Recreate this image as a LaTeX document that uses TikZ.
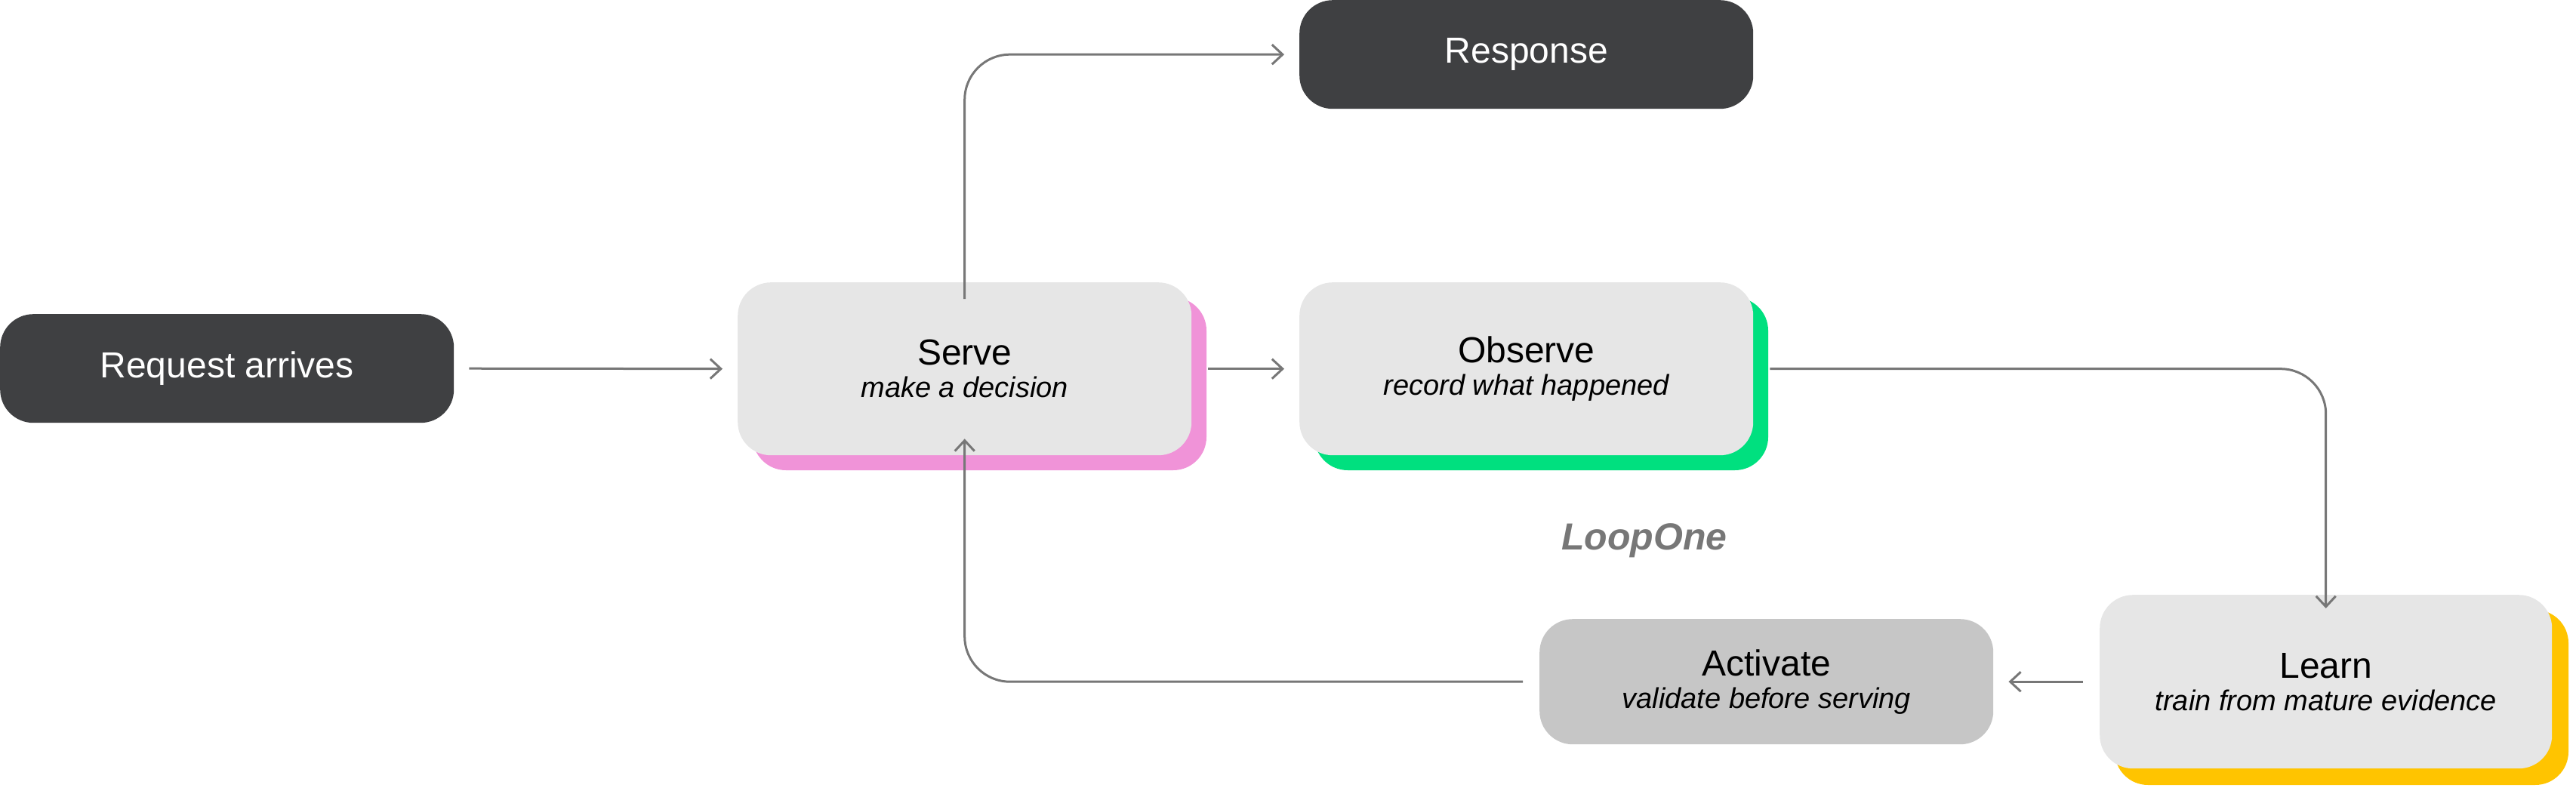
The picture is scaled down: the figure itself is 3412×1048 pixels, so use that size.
\documentclass[tikz,border=0pt]{standalone}
\usepackage{fontspec}
\setmainfont{Liberation Sans}
\usetikzlibrary{arrows.meta}
\definecolor{dark}{HTML}{3F4042}
\definecolor{light}{HTML}{E6E6E6}
\definecolor{mid}{HTML}{C6C6C6}
\definecolor{lnc}{HTML}{777777}
\definecolor{pinkc}{HTML}{F093D8}
\definecolor{greenc}{HTML}{00E07F}
\definecolor{yellowc}{HTML}{FFC400}
\tikzset{
  box/.style={rounded corners=44pt, minimum width=601pt, align=center, inner sep=0pt},
  darkbox/.style={box, fill=dark, text=white, minimum height=144pt, font=\fontsize{48}{56}\selectfont},
  procbox/.style={box, fill=light, minimum height=229pt},
  conn/.style={draw=lnc, line width=3pt, -{Straight Barb[length=14pt,width=26pt,line width=3pt]}, rounded corners=60pt},
  ttl/.style={font=\fontsize{48}{56}\selectfont},
  sub/.style={font=\itshape\fontsize{38}{46}\selectfont},
}
\newcommand{\twol}[2]{{\fontsize{48}{56}\selectfont #1}\\[14pt]{\itshape\fontsize{38}{46}\selectfont #2}}
\begin{document}
\begin{tikzpicture}[x=1pt,y=-1pt]
\useasboundingbox (0,0) rectangle (3412,1048);
% shadows
\fill[pinkc, rounded corners=44pt] (997,394) rectangle (1598,623);
\fill[greenc, rounded corners=44pt] (1741,394) rectangle (2342,623);
\fill[yellowc, rounded corners=44pt] (2801,808) rectangle (3402,1040);
\node[darkbox, anchor=north west] (req) at (0,416) {Request arrives};
\node[darkbox, anchor=north west] (resp) at (1721,0) {Response};
\node[procbox, anchor=north west] (serve) at (977,374) {\twol{Serve}{make a decision}};
\node[procbox, anchor=north west] (obs) at (1721,374) {\twol{Observe}{record what happened}};
\node[procbox, anchor=north west, minimum height=230pt, minimum width=599pt] (learn) at (2781,788) {\twol{Learn}{train from mature evidence}};
\node[box, fill=mid, minimum height=166pt, anchor=north west] (act) at (2039,820) {\twol{Activate}{validate before serving}};
\node[font=\bfseries\itshape\fontsize{50}{58}\selectfont, text=lnc] (loop) at (2178,716) {LoopOne};
\coordinate (sTop) at ([yshift=-22pt]serve.north);
\coordinate (sBot) at ([yshift=-22pt]serve.south);
\draw[conn, shorten <=20pt, shorten >=20pt] (req.east) -- (serve.west);
\draw[conn, shorten <=22pt, shorten >=20pt] (serve.east) -- (obs.west);
\draw[conn, shorten >=20pt] (sTop) |- (resp.west);
\draw[conn, shorten <=22pt] (obs.east) -| ([yshift=-18pt]learn.north);
\draw[conn, shorten <=22pt, shorten >=20pt] (learn.west) -- (act.west -| act.east);
\draw[conn, shorten <=22pt] (act.west) -| ([yshift=22pt]serve.south);
\end{tikzpicture}
\end{document}
